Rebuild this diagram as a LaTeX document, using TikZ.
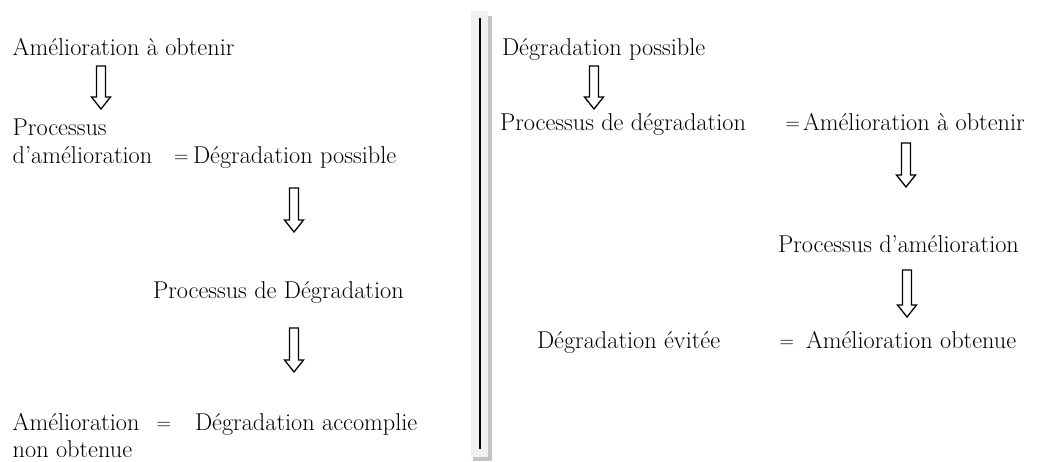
\documentclass[tikz,border=0pt]{standalone}
\usepackage{fontspec}
\usetikzlibrary{calc}
\definecolor{panelgray}{HTML}{F0F0F0}
\definecolor{shadegray}{HTML}{C4C4C4}
\tikzset{
  txt/.style={anchor=base west, inner sep=0pt, outer sep=0pt, font=\fontsize{24.3}{28}\selectfont},
  eqsign/.style={anchor=base west, inner sep=0pt, outer sep=0pt, font=\fontsize{20}{24}\selectfont, yshift=1pt},
  hollowline/.style={draw=black, line width=1.3pt, line join=miter, fill=white},
}
\newcommand{\hollowdown}[2]{%
  \path[hollowline] let \p1=(#1), \p2=(#2) in
    (\x1-4.5pt,\y1) -- (\x1+4.5pt,\y1) -- (\x1+4.5pt,\y2+12pt) -- (\x1+9.5pt,\y2+12pt)
    -- (\x1,\y2) -- (\x1-9.5pt,\y2+12pt) -- (\x1-4.5pt,\y2+12pt) -- cycle;}
\begin{document}
\begin{tikzpicture}[x=1pt,y=-1pt]
\useasboundingbox (0,0) rectangle (1049,461);
% divider
\fill[shadegray] (473,16) rectangle (492,461);
\fill[panelgray] (471,11) rectangle (488,457);
\coordinate (dtop) at (479.7,18);
\coordinate (dbot) at (479.7,449);
\draw[line width=2pt] (dtop) -- (dbot);
% left column
\node[txt] (l1) at (12.7,55) {Amélioration à obtenir};
\node[txt] (l2) at (12.7,135) {Processus};
\node[txt] (l3) at (12.7,163) {d’amélioration};
\node[eqsign] (l3eq) at (174.2,163) {=};
\node[txt] (l3b) at (193,163) {Dégradation possible};
\node[txt] (l4) at (153,298) {Processus de Dégradation};
\node[txt] (l5) at (12.7,430) {Amélioration};
\node[eqsign] (l5eq) at (156.7,430) {=};
\node[txt] (l5b) at (195,430) {Dégradation accomplie};
\node[txt] (l6) at (12.7,457) {non obtenue};
% right column
\node[txt] (r1) at (502,55) {Dégradation possible};
\node[txt] (r2) at (500,130) {Processus de dégradation};
\node[eqsign] (r2eq) at (785.7,130) {=};
\node[txt] (r2b) at (803,130) {Amélioration à obtenir};
\node[txt] (r3) at (778,252) {Processus d’amélioration};
\node[txt] (r4) at (537,348) {Dégradation évitée};
\node[eqsign] (r4eq) at (779.7,348) {=};
\node[txt] (r4b) at (806,348) {Amélioration obtenue};
% arrow end points
\coordinate (a1s) at (101,66);  \coordinate (a1e) at (101,109);
\coordinate (a2s) at (294,188); \coordinate (a2e) at (294,232);
\coordinate (a3s) at (294,328); \coordinate (a3e) at (294,372);
\coordinate (b1s) at (594,66);  \coordinate (b1e) at (594,109);
\coordinate (b2s) at (906,143); \coordinate (b2e) at (906,187);
\coordinate (b3s) at (907,270); \coordinate (b3e) at (907,317);
\hollowdown{a1s}{a1e}
\hollowdown{a2s}{a2e}
\hollowdown{a3s}{a3e}
\hollowdown{b1s}{b1e}
\hollowdown{b2s}{b2e}
\hollowdown{b3s}{b3e}
\end{tikzpicture}
\end{document}
